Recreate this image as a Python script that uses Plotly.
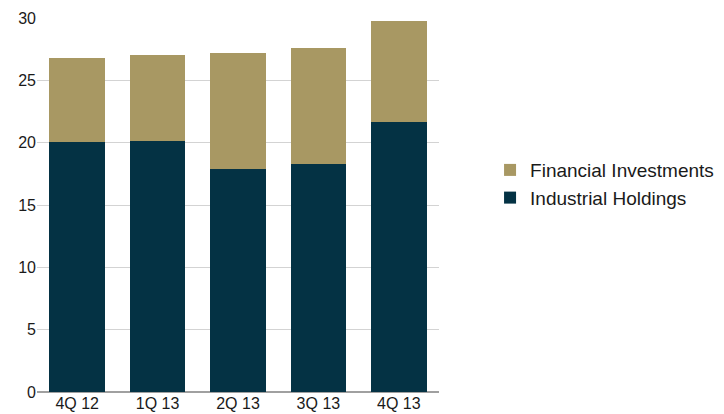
import plotly.graph_objects as go

categories = ["4Q 12", "1Q 13", "2Q 13", "3Q 13", "4Q 13"]
industrial = [20.05, 20.1, 17.9, 18.3, 21.65]
financial = [6.75, 6.9, 9.3, 9.3, 8.1]
y_ticks = [0, 5, 10, 15, 20, 25, 30]

fig = go.Figure()
fig.add_trace(go.Bar(x=categories, y=industrial, name="Industrial Holdings",
                     marker=dict(color="#043244", line=dict(width=0))))
fig.add_trace(go.Bar(x=categories, y=financial, name="Financial Investments",
                     marker=dict(color="#A89863", line=dict(width=0))))

fig.update_layout(
    barmode="stack",
    bargap=0.31,
    width=724, height=414,
    margin=dict(l=37, r=285, t=18, b=22, autoexpand=False),
    plot_bgcolor="white", paper_bgcolor="white",
    font=dict(family="Liberation Sans, Arial, sans-serif", color="#1a1a1a", size=16),
    legend=dict(x=1.127, xanchor="left", y=0.556, yanchor="middle",
                traceorder="reversed", font=dict(size=19),
                itemsizing="constant", tracegroupgap=0),
    xaxis=dict(showgrid=False, ticks="", showline=False, zeroline=False,
               automargin=False),
    yaxis=dict(range=[0, 30], tickvals=y_ticks, showgrid=True, gridcolor="#d3d3d3",
               gridwidth=1, zeroline=True, zerolinecolor="#a0a0a0", zerolinewidth=2,
               ticks="", showline=False, automargin=False),
)
fig.write_html("out.html")
